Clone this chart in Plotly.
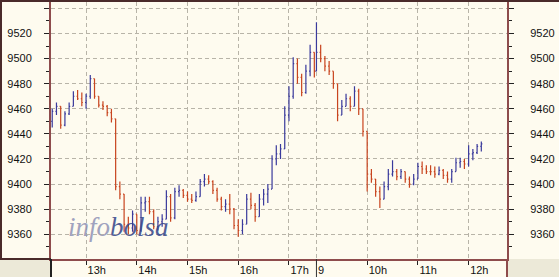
import plotly.graph_objects as go

# ---------------- data (5-minute bars) ----------------
day1_start = "12:20"
day2_start = "09:00"
bar_minutes = 5

day1_open = [9450, 9458, 9462, 9447, 9456, 9462, 9470, 9468, 9465, 9470, 9484, 9470, 9463, 9462, 9457, 9452,
             9398, 9392, 9368, 9365, 9376, 9363, 9385, 9386, 9378, 9366, 9370, 9372, 9390, 9373, 9394, 9395,
             9391, 9388, 9387, 9390, 9402, 9404, 9402, 9395, 9388, 9382, 9384, 9380, 9367, 9363, 9368, 9388,
             9383, 9374, 9388, 9392, 9396, 9420, 9424, 9428, 9455, 9470, 9496, 9485, 9473, 9490, 9505]
day1_high = [9460, 9465, 9462, 9458, 9465, 9474, 9475, 9473, 9472, 9487, 9484, 9470, 9466, 9463, 9460, 9452,
             9402, 9392, 9374, 9379, 9376, 9390, 9390, 9390, 9380, 9374, 9376, 9395, 9392, 9397, 9399, 9396,
             9394, 9392, 9394, 9404, 9408, 9407, 9403, 9397, 9390, 9388, 9392, 9381, 9372, 9372, 9392, 9393,
             9385, 9392, 9396, 9400, 9423, 9431, 9432, 9462, 9478, 9501, 9500, 9488, 9495, 9511, 9505]
day1_low = [9445, 9455, 9444, 9446, 9455, 9462, 9467, 9462, 9460, 9468, 9468, 9461, 9459, 9454, 9449, 9395,
            9388, 9362, 9360, 9362, 9360, 9362, 9378, 9376, 9364, 9363, 9366, 9372, 9370, 9372, 9390, 9389,
            9386, 9385, 9386, 9390, 9398, 9400, 9392, 9386, 9379, 9378, 9376, 9364, 9358, 9360, 9368, 9380,
            9370, 9374, 9383, 9385, 9396, 9415, 9420, 9428, 9450, 9468, 9480, 9470, 9472, 9486, 9485]
day1_close = [9458, 9462, 9447, 9456, 9462, 9470, 9468, 9465, 9470, 9484, 9470, 9463, 9462, 9457, 9452, 9398,
              9392, 9368, 9365, 9376, 9363, 9385, 9386, 9378, 9366, 9370, 9372, 9390, 9373, 9394, 9395, 9391,
              9388, 9387, 9390, 9402, 9404, 9402, 9395, 9388, 9382, 9384, 9380, 9367, 9363, 9368, 9388, 9383,
              9374, 9388, 9392, 9396, 9420, 9424, 9428, 9455, 9470, 9496, 9485, 9473, 9490, 9505, 9490]

day2_open = [9490, 9505, 9500, 9494, 9490, 9480, 9455, 9462, 9468, 9462, 9474, 9460, 9442, 9408, 9404, 9394,
             9388, 9398, 9408, 9410, 9406, 9410, 9404, 9400, 9404, 9414, 9412, 9410, 9410, 9408, 9411, 9407,
             9404, 9410, 9417, 9418, 9416, 9424, 9425, 9430]
day2_high = [9529, 9511, 9502, 9498, 9490, 9480, 9467, 9472, 9470, 9478, 9476, 9460, 9442, 9412, 9404, 9398,
             9402, 9412, 9419, 9412, 9412, 9410, 9406, 9408, 9417, 9418, 9415, 9415, 9414, 9414, 9412, 9410,
             9412, 9421, 9421, 9420, 9431, 9428, 9432, 9434]
day2_low = [9490, 9497, 9490, 9487, 9476, 9450, 9455, 9462, 9458, 9462, 9455, 9438, 9394, 9401, 9390, 9381,
            9388, 9395, 9406, 9403, 9404, 9401, 9397, 9399, 9404, 9408, 9408, 9407, 9405, 9407, 9404, 9401,
            9401, 9410, 9413, 9412, 9414, 9419, 9424, 9426]
day2_close = [9505, 9500, 9494, 9490, 9480, 9455, 9462, 9468, 9462, 9474, 9460, 9442, 9408, 9404, 9394, 9388,
              9398, 9408, 9410, 9406, 9410, 9404, 9400, 9404, 9414, 9412, 9410, 9410, 9408, 9411, 9407, 9404,
              9410, 9417, 9418, 9416, 9424, 9425, 9430, 9432]

hour_labels = ["13h", "14h", "15h", "16h", "17h", "9", "10h", "11h", "12h"]
day1_hours = [13, 14, 15, 16, 17]
day2_hours = [9, 10, 11, 12]
y_ticks = [9360, 9380, 9400, 9420, 9440, 9460, 9480, 9500, 9520, 9540]
y_tick_text = ["9360", "9380", "9400", "9420", "9440", "9460", "9480", "9500", "9520", ""]

# ---------------- axis index (continuous trading-hours scale) ----------------
session1_end = 17 + 32.5 / 60          # day 1 ends, day 2 starts right after
day2_shift = session1_end - 9          # maps day-2 clock hours onto the index


def to_hours(hhmm):
    h, m = hhmm.split(":")
    return int(h) + int(m) / 60


x1 = [to_hours(day1_start) + i * bar_minutes / 60 for i in range(len(day1_close))]
x2 = [to_hours(day2_start) + day2_shift + i * bar_minutes / 60 for i in range(len(day2_close))]
tickvals = day1_hours + [h + day2_shift for h in day2_hours]

# ---------------- styles ----------------
CREAM = "#fefbef"
GREY = "#ece9d8"
MAROON = "#8e4c4c"
FRAME = "#4a2a2a"
GRID = "#b8b4a8"
FONT = dict(family="Liberation Sans, Arial, sans-serif", size=11, color="#111111")

W, H = 559, 277
L, R, T, B = 51, 52, 2, 18
pw, ph = W - L - R, H - T - B


def px_x(p):
    return (p - L) / pw


def px_y(p):
    return (H - B - p) / ph


fig = go.Figure()
fig.add_trace(go.Ohlc(
    x=x1 + x2,
    open=day1_open + day2_open,
    high=day1_high + day2_high,
    low=day1_low + day2_low,
    close=day1_close + day2_close,
    increasing=dict(line=dict(color="#3a3a9c", width=1.2)),
    decreasing=dict(line=dict(color="#c8441e", width=1.2)),
    tickwidth=0.5,
    hoverinfo="skip",
    showlegend=False,
))
# invisible trace to attach the right-hand axis
fig.add_trace(go.Scatter(x=[x1[0]], y=[day1_close[0]], yaxis="y2", mode="markers",
                         marker=dict(opacity=0), hoverinfo="skip", showlegend=False))

yrange = [9340.3, 9545.1]
xrange_ = [12.309, 21.298]

common_y = dict(range=yrange, tickvals=y_ticks, ticktext=y_tick_text, ticks="outside", ticklen=5,
                tickcolor="#222", tickwidth=1, showline=True, linecolor=MAROON, linewidth=2,
                tickfont=FONT, zeroline=False, fixedrange=True,
                minor=dict(dtick=10, tick0=9340, ticks="outside", ticklen=3, tickcolor="#222", showgrid=False))

fig.update_layout(
    width=W, height=H,
    margin=dict(l=L, r=R, t=T, b=B, pad=0),
    paper_bgcolor=GREY,
    plot_bgcolor="rgba(0,0,0,0)",
    font=FONT,
    showlegend=False,
    xaxis=dict(range=xrange_, tickvals=tickvals, ticktext=hour_labels, ticks="outside", ticklen=4,
               tickcolor="#222", tickfont=FONT, ticklabelposition="outside right",
               showgrid=True, gridcolor=GRID, griddash="4px,3px", gridwidth=1,
               showline=True, linecolor=MAROON, linewidth=2, zeroline=False,
               rangeslider=dict(visible=False), fixedrange=True),
    yaxis=dict(**common_y, side="left", showgrid=True, gridcolor=GRID, griddash="4px,3px",
               ticklabelstandoff=10),
    yaxis2=dict(**common_y, side="right", overlaying="y", showgrid=False, ticklabelstandoff=14),
    shapes=[
        # cream chart panel
        dict(type="rect", xref="paper", yref="paper", x0=px_x(0), x1=px_x(W), y0=0, y1=px_y(0),
             fillcolor=CREAM, line=dict(width=0), layer="below"),
        # cream label strip
        dict(type="rect", xref="paper", yref="paper", x0=0, x1=px_x(507), y0=px_y(H), y1=0,
             fillcolor=CREAM, line=dict(width=0), layer="below"),
        # outer frame: top and left
        dict(type="line", xref="paper", yref="paper", x0=px_x(0), x1=px_x(W), y0=px_y(1), y1=px_y(1),
             line=dict(color=FRAME, width=2)),
        dict(type="line", xref="paper", yref="paper", x0=px_x(1), x1=px_x(1), y0=px_y(0), y1=0,
             line=dict(color=FRAME, width=2)),
        # bottom frame line left of the plot
        dict(type="line", xref="paper", yref="paper", x0=px_x(0), x1=0, y0=0, y1=0,
             line=dict(color=FRAME, width=2)),
        # label strip borders
        dict(type="line", xref="paper", yref="paper", x0=0, x1=0, y0=px_y(H), y1=0,
             line=dict(color="#222", width=2)),
        dict(type="line", xref="paper", yref="paper", x0=1, x1=1, y0=px_y(H), y1=0,
             line=dict(color=MAROON, width=2)),
        # day separator in the label strip
        dict(type="line", xref="x", yref="paper", x0=session1_end, x1=session1_end, y0=px_y(H), y1=0,
             line=dict(color="#333", width=1)),
    ],
    annotations=[
        dict(xref="paper", yref="paper", x=px_x(66), y=px_y(244), xanchor="left", yanchor="bottom",
             showarrow=False, opacity=0.85,
             text="<i><span style='color:#9093b6'>info</span><span style='color:#34448a'>bolsa</span></i>",
             font=dict(family="Liberation Serif, Times New Roman, serif", size=27)),
    ],
)

fig.write_html("out.html")
